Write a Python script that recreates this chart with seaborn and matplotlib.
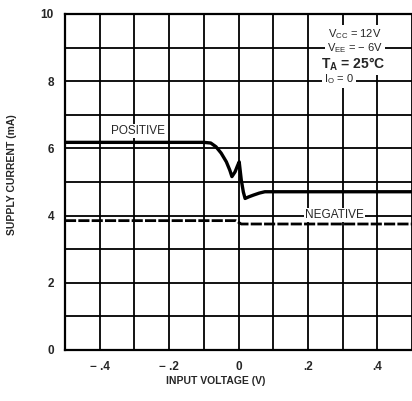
import numpy as np
import pandas as pd
import matplotlib
matplotlib.use("Agg")
import matplotlib.pyplot as plt
import seaborn as sns

# --- data ---
pos_x = [-0.5, -0.1, -0.08, -0.065, -0.05, -0.035, -0.025, -0.019, -0.01, -0.003, 0.002, 0.008, 0.014, 0.019, 0.03, 0.043, 0.06, 0.076, 0.1, 0.5]
pos_y = [6.18, 6.18, 6.16, 6.05, 5.86, 5.6, 5.35, 5.16, 5.3, 5.48, 5.6, 5.06, 4.7, 4.51, 4.56, 4.61, 4.67, 4.71, 4.71, 4.71]
neg_x = [-0.5, -0.008, 0.008, 0.5]
neg_y = [3.85, 3.85, 3.75, 3.75]

x_ticks = [-0.4, -0.2, 0.0, 0.2, 0.4]
x_tick_labels = ["\u2212 .4", "\u2212 .2", "0", ".2", ".4"]
y_ticks = [0, 2, 4, 6, 8, 10]

sns.set_style("white")
plt.rcParams['font.family'] = ['Liberation Sans', 'DejaVu Sans']

fig = plt.figure(figsize=(4.12, 4.01), dpi=100)
ax = fig.add_axes([65 / 412, 1 - 350 / 401, 1 - 65 / 412, 336 / 401])

df_pos = pd.DataFrame({"v": pos_x, "i": pos_y})
df_neg = pd.DataFrame({"v": neg_x, "i": neg_y})

sns.lineplot(data=df_pos, x="v", y="i", ax=ax, color="black", lw=2.4, zorder=4)
sns.lineplot(data=df_neg, x="v", y="i", ax=ax, color="black", lw=2.0, zorder=4)
ax.lines[-1].set_dashes([4, 0.8])

ax.set_xlim(-0.5, 0.4943)
ax.set_ylim(0, 10)

# grid every 0.1 V and 1 mA
ax.set_xticks(x_ticks)
ax.set_xticklabels(x_tick_labels)
ax.set_yticks(y_ticks)
ax.set_xticks(np.arange(-0.5, 0.51, 0.1), minor=True)
ax.set_yticks(np.arange(0, 11, 1), minor=True)
ax.grid(which="both", color="black", lw=1.3, zorder=1)
ax.tick_params(which="both", length=0)
ax.tick_params(which="major", labelsize=8.5, pad=8)
for lab in ax.get_xticklabels() + ax.get_yticklabels():
    lab.set_fontweight("bold")

for side in ["left", "bottom", "top"]:
    ax.spines[side].set_color("black")
    ax.spines[side].set_linewidth(1.6)
ax.spines["right"].set_visible(False)

ax.set_xlabel("")
ax.set_ylabel("")
fig.text(216 / 412, 1 - 381 / 401, "INPUT VOLTAGE (V)", ha="center", va="center",
         fontsize=7.5, fontweight="bold")
fig.text(12 / 412, 1 - 175 / 401, "SUPPLY CURRENT (mA)", ha="center", va="center",
         rotation=90, fontsize=7.5, fontweight="bold")

# curve labels
box = dict(facecolor="white", edgecolor="none", pad=1.0)
ax.text(-0.29, 6.52, "POSITIVE", ha="center", va="center", fontsize=8.5, bbox=box, zorder=5)
ax.text(0.277, 4.02, "NEGATIVE", ha="center", va="center", fontsize=8.5, bbox=box, zorder=5)

# conditions box
ax.text(0.335, 9.4, "V$_{\\mathregular{CC}}$ = 12V", ha="center", va="center", fontsize=8,
        bbox=dict(facecolor="white", edgecolor="none", pad=1.5), zorder=5)
ax.text(0.335, 8.98, "V$_{\\mathregular{EE}}$ = \u2212 6V", ha="center", va="center", fontsize=8,
        bbox=dict(facecolor="white", edgecolor="none", pad=1.5), zorder=5)
ax.text(0.33, 8.5, "T$_{\\mathregular{A}}$ = 25\u00b0C", ha="center", va="center", fontsize=10,
        fontweight="bold", bbox=dict(facecolor="white", edgecolor="none", pad=1.5), zorder=5)
ax.text(0.29, 8.06, "I$_{\\mathregular{O}}$ = 0", ha="center", va="center", fontsize=8,
        bbox=dict(facecolor="white", edgecolor="none", pad=1.5), zorder=5)

fig.savefig("out.png", dpi=100)
